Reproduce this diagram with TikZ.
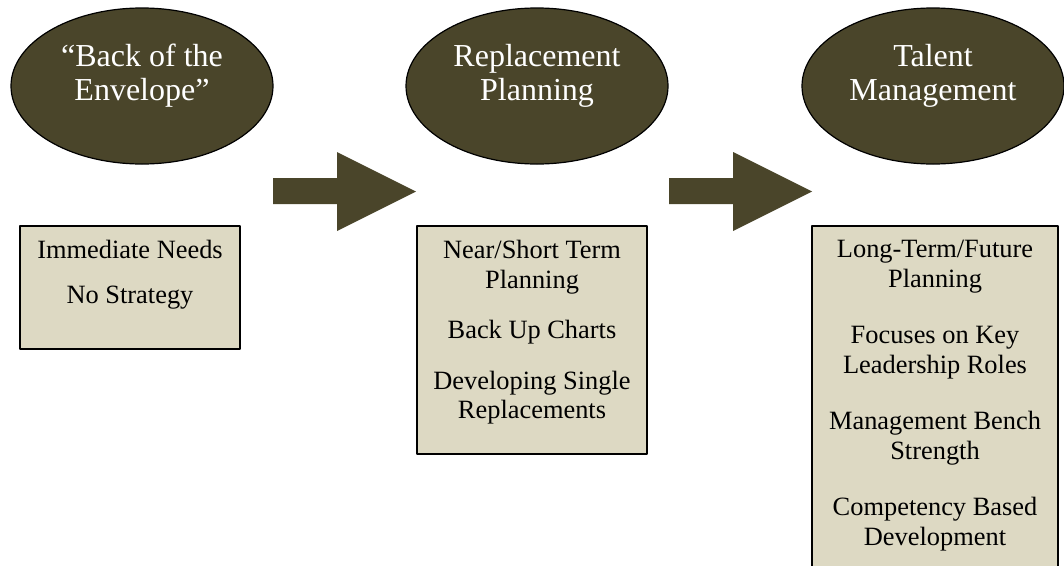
\documentclass[tikz,border=0pt]{standalone}
\usepackage{fontspec}
\setmainfont{Liberation Serif}
\usetikzlibrary{shapes.geometric}
\definecolor{darkolive}{HTML}{4A452A}
\definecolor{paletan}{HTML}{DDD9C3}
\tikzset{
	phase/.style={ellipse, draw=black, line width=1.2pt, fill=darkolive, minimum width=262, minimum height=156, inner sep=0pt},
	phasetext/.style={text=white, align=center, inner sep=0pt, font=\fontsize{32}{34}\selectfont},
	notebox/.style={draw=black, line width=1.6pt, fill=paletan, anchor=north, inner sep=0pt},
	notetext/.style={align=center, anchor=north, inner sep=0pt, font=\fontsize{26.4}{29.5}\selectfont}
}
\begin{document}
\begin{tikzpicture}[x=1pt, y=-1pt, line join=round]
	\useasboundingbox (0,0) rectangle (1064,565);
	\clip (0,0) rectangle (1064,565);
	% stages
	\node[phase] (envelope) at (142,86) {};
	\node[phase] (replace) at (537,86) {};
	\node[phase] (talent) at (933,86) {};
	\node[phasetext] (envelopetxt) at (142,76) {``Back of the\\Envelope''};
	\node[phasetext] (replacetxt) at (537,76) {Replacement\\Planning};
	\node[phasetext] (talenttxt) at (933,76) {Talent\\Management};
	% block arrows
	\foreach \xa in {273,669}{
		\fill[darkolive] (\xa,178) -- ++(64,0) -- ++(0,-26) -- ++(79,39.5) -- ++(-79,39.5) -- ++(0,-27) -- ++(-64,0) -- cycle;}
	% notes
	\node[notebox, minimum width=220, minimum height=123] (needsbox) at (130,225) {};
	\node[notebox, minimum width=230, minimum height=228] (planbox) at (532,225) {};
	\node[notebox, minimum width=246, minimum height=350] (futurebox) at (935,225) {};
	\node[notetext] (needs) at (130,240) {Immediate Needs\\[15.5pt]No Strategy};
	\node[notetext] (plan) at (532,240) {Near/Short Term\\Planning\\[21pt]Back Up Charts\\[21pt]Developing Single\\Replacements};
	\node[notetext] (future) at (935,240) {Long-Term/Future\\Planning\\[27pt]Focuses on Key\\Leadership Roles\\[27pt]Management Bench\\Strength\\[27pt]Competency Based\\Development};
\end{tikzpicture}
\end{document}
